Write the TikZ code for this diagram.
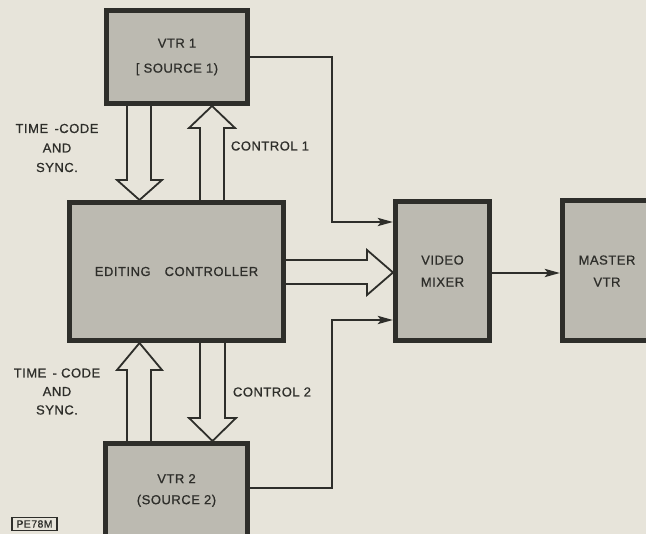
\documentclass[tikz,border=0pt]{standalone}
\usepackage{fontspec}
\setmainfont{Liberation Sans}[LetterSpace=4,FakeBold=0.7]
\usetikzlibrary{arrows.meta,calc}
\definecolor{paper}{HTML}{E7E4DA}
\definecolor{boxfill}{HTML}{BCBAB1}
\definecolor{ink}{HTML}{2E2E2A}
\pgfdeclarelayer{back}
\pgfdeclarelayer{mid}
\pgfsetlayers{back,mid,main}
\begin{document}
\begin{tikzpicture}[x=1pt,y=-1pt,
 blk/.style={draw=ink,fill=boxfill,line width=5pt,inner sep=0pt,align=center,
   font=\fontsize{13}{16}\selectfont,text=ink},
 hollow/.style={draw=ink,fill=paper,line width=1.8pt,line join=miter},
 sig/.style={draw=ink,line width=2.8pt,-{Stealth[length=15pt,width=8pt,inset=3pt]}},
 lbl/.style={align=center,text=ink,inner sep=0pt}]
\useasboundingbox (0,0) rectangle (646,534);
\clip (0,0) rectangle (646,534);
\begin{pgfonlayer}{back}
  \fill[paper] (0,0) rectangle (646,534);
\end{pgfonlayer}

% blocks
\node[blk,minimum width=141pt,minimum height=93pt] (vtr1) at (177,57) {VTR 1\\[9pt][ SOURCE 1)};
\node[blk,minimum width=214pt,minimum height=138pt] (ctrl) at (176.5,271.5) {EDITING\hspace{14pt}CONTROLLER};
\node[blk,minimum width=142pt,minimum height=94pt] (vtr2) at (176.5,490.5) {VTR 2\\[5pt](SOURCE 2)};
\node[blk,minimum width=94pt,minimum height=139pt] (mix) at (442.5,271) {VIDEO\\[6pt]MIXER};
\node[blk,minimum width=89pt,minimum height=140pt] (mst) at (607,271) {MASTER\\[6pt]VTR};

% labels
\node[lbl,font=\fontsize{13}{19.5}\selectfont] (tc1) at (57,148) {TIME \,-CODE\\AND\\SYNC.};
\node[lbl,font=\fontsize{13}{16}\selectfont] (c1) at (270,146) {CONTROL 1};
\node[lbl,font=\fontsize{13}{18.5}\selectfont] (tc2) at (57,391.5) {TIME \,- CODE\\AND\\SYNC.};
\node[lbl,font=\fontsize{13}{16}\selectfont] (c2) at (272,392) {CONTROL 2};
\node[draw=ink,line width=1.1pt,minimum width=45pt,minimum height=13pt,inner sep=0pt,text=ink,font=\fontsize{10.5}{11}\selectfont] (ref) at (34.5,524) {PE78M};

\begin{pgfonlayer}{mid}
% hollow arrows
\draw[hollow] (127,0 |- vtr1.south) -- (127,180) -- (117,180) -- (139.5,0 |- ctrl.north)
   -- (162,180) -- (151,180) -- (151,0 |- vtr1.south);
\draw[hollow] (200,0 |- ctrl.north) -- (200,128) -- (189,128) -- (212,0 |- vtr1.south)
   -- (235,128) -- (224,128) -- (224,0 |- ctrl.north);
\draw[hollow] (127,0 |- vtr2.north) -- (127,370) -- (117,370) -- (139.5,0 |- ctrl.south)
   -- (162,370) -- (151,370) -- (151,0 |- vtr2.north);
\draw[hollow] (200,0 |- ctrl.south) -- (200,418) -- (189,418) -- (212.5,0 |- vtr2.north)
   -- (236,418) -- (225,418) -- (225,0 |- ctrl.south);
\draw[hollow] (ctrl.east |- 0,260) -- (367,260) -- (367,250) -- (mix.west |- 0,272.5)
   -- (367,295) -- (367,284) -- (ctrl.east |- 0,284);
% signal lines
\draw[sig] (vtr1.east |- 0,57) -| (332,222) -- (mix.west |- 0,222);
\draw[sig] (vtr2.east |- 0,488) -| (332,320) -- (mix.west |- 0,320);
\draw[sig] (mix.east |- 0,273) -- (mst.west |- 0,273);
\end{pgfonlayer}
\end{tikzpicture}
\end{document}
